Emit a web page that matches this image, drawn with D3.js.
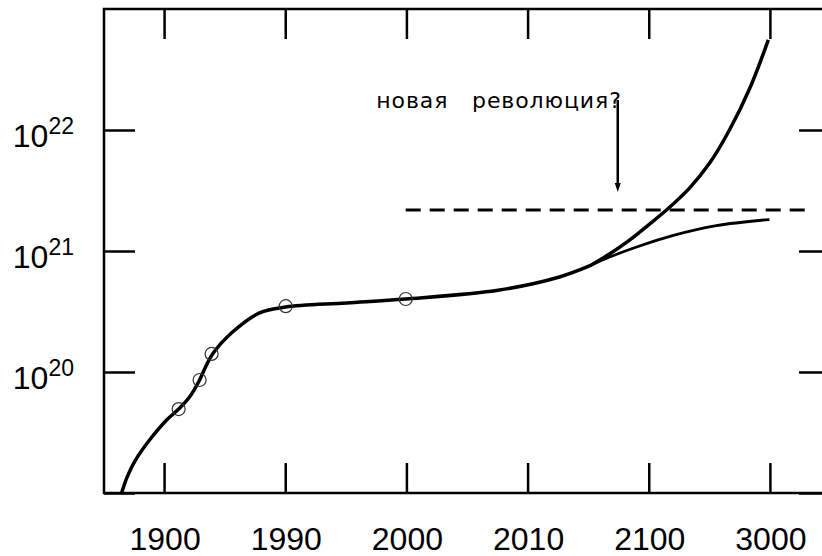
<!DOCTYPE html>
<html>
<head>
<meta charset="utf-8">
<script src="https://cdn.jsdelivr.net/npm/d3@7"></script>
<style>
  body { margin: 0; background: #fff; }
  svg { display: block; }
</style>
</head>
<body>
<div id="chart"></div>
<script>
// positions des graduations (axe non lineaire : une case par etiquette)
const tickLabels = ["1900", "1990", "2000", "2010", "2100", "3000"];
const yTicks = [1e19, 1e20, 1e21, 1e22];
const yLabelExp = {1e20: "20", 1e21: "21", 1e22: "22"};

// courbe principale (x = indice de case, y = valeur)
const mainX = [-0.355, -0.306, -0.240, -0.124, 0.017, 0.116, 0.206, 0.289, 0.338, 0.396, 0.561, 0.784, 0.998, 1.502, 1.988, 2.764, 3.259, 3.507];
const mainY = [1.0e19, 1.38e19, 1.87e19, 2.74e19, 4.01e19, 4.94e19, 6.21e19, 8.59e19, 1.10e20, 1.41e20, 2.14e20, 3.08e20, 3.44e20, 3.72e20, 4.01e20, 4.76e20, 6.10e20, 7.52e20];

// branche haute (revolution)
const upX = [3.507, 3.672, 3.837, 4.002, 4.142, 4.332, 4.497, 4.662, 4.827, 4.983];
const upY = [7.52e20, 9.44e20, 1.23e21, 1.67e21, 2.18e21, 3.31e21, 5.30e21, 1.0e22, 2.18e22, 5.55e22];

// branche basse (saturation)
const lowX = [3.507, 3.672, 3.920, 4.192, 4.555, 4.992];
const lowY = [7.52e20, 8.91e20, 1.10e21, 1.34e21, 1.62e21, 1.82e21];

// points mesures
const obsX = [0.116, 0.289, 0.388, 1.0, 1.99];
const obsY = [4.94e19, 8.59e19, 1.41e20, 3.5e20, 4.01e20];

// limite en tirets
const limitX = [1.99, 5.35];
const limitY = 2.18e21;

// fleche
const arrowX = 3.74;
const arrowY = [1.77e22, 3.08e21];
const annotation = "новая\u00a0\u00a0\u00a0революция?";

const margin = {top: 9, left: 104};
const width = 727;
const height = 484;

const svg = d3.select("#chart")
    .append("svg")
    .attr("width", 822)
    .attr("height", 556);

const g = svg.append("g")
    .attr("transform", "translate(" + margin.left + "," + margin.top + ")");

const x = d3.scaleLinear().domain([-0.5, 5.5]).range([0, width]);
const y = d3.scaleLog().domain([1e19, 1e23]).range([height, 0]);

// axes
const xb = g.append("g")
    .attr("transform", "translate(0," + height + ")")
    .call(d3.axisBottom(x)
        .tickValues(d3.range(tickLabels.length))
        .tickFormat(i => tickLabels[i])
        .tickSize(0)
        .tickPadding(34));
const yl = g.append("g")
    .call(d3.axisLeft(y)
        .tickValues(yTicks)
        .tickFormat(() => "")
        .tickSize(-31)
        .tickPadding(30));
const yr = g.append("g")
    .attr("transform", "translate(" + width + ",0)")
    .call(d3.axisRight(y)
        .tickValues(yTicks)
        .tickFormat(() => "")
        .tickSize(-32));

[xb, yl, yr].forEach(a => {
    a.select(".domain").remove();
    a.selectAll(".tick line").attr("stroke", "#000").attr("stroke-width", 2.5);
});

// graduations x en haut et en bas (rectangles fins)
const xTickG = g.append("g").attr("fill", "#000");
xTickG.selectAll("rect.top")
    .data(d3.range(tickLabels.length))
    .join("rect")
    .attr("class", "top")
    .attr("x", d => x(d) - 1.25)
    .attr("y", 0)
    .attr("width", 2.5)
    .attr("height", 30);
xTickG.selectAll("rect.bot")
    .data(d3.range(tickLabels.length))
    .join("rect")
    .attr("class", "bot")
    .attr("x", d => x(d) - 1.25)
    .attr("y", height - 30)
    .attr("width", 2.5)
    .attr("height", 30);

xb.selectAll(".tick text")
    .attr("font-family", "Liberation Sans, Arial, sans-serif")
    .attr("font-size", 32)
    .attr("fill", "#000");

// etiquettes 10^n
yl.selectAll(".tick")
    .filter(d => yLabelExp[d])
    .append("text")
    .attr("x", -30)
    .attr("dy", "0.5em")
    .attr("text-anchor", "end")
    .attr("font-family", "Liberation Sans, Arial, sans-serif")
    .attr("font-size", 32)
    .attr("fill", "#000")
    .each(function (d) {
        const t = d3.select(this);
        t.append("tspan").text("10");
        t.append("tspan").attr("font-size", 23).attr("dy", -13).text(yLabelExp[d]);
    });

// cadre
g.append("rect")
    .attr("width", width)
    .attr("height", height)
    .attr("fill", "none")
    .attr("stroke", "#000")
    .attr("stroke-width", 2.5);

const line = d3.line()
    .x(d => x(d[0]))
    .y(d => y(d[1]))
    .curve(d3.curveCatmullRom.alpha(0.5));

g.append("path")
    .datum(d3.zip(mainX, mainY))
    .attr("d", line)
    .attr("fill", "none")
    .attr("stroke", "#000")
    .attr("stroke-width", 3.5);

g.append("path")
    .datum(d3.zip(upX, upY))
    .attr("d", line)
    .attr("fill", "none")
    .attr("stroke", "#000")
    .attr("stroke-width", 3.5);

g.append("path")
    .datum(d3.zip(lowX, lowY))
    .attr("d", line)
    .attr("fill", "none")
    .attr("stroke", "#000")
    .attr("stroke-width", 2.8);

g.selectAll("circle.obs")
    .data(d3.zip(obsX, obsY))
    .join("circle")
    .attr("class", "obs")
    .attr("cx", d => x(d[0]))
    .attr("cy", d => y(d[1]))
    .attr("r", 6.5)
    .attr("fill", "none")
    .attr("stroke", "#333")
    .attr("stroke-width", 1.2);

g.append("line")
    .attr("x1", x(limitX[0]))
    .attr("x2", x(limitX[1]))
    .attr("y1", y(limitY))
    .attr("y2", y(limitY))
    .attr("stroke", "#000")
    .attr("stroke-width", 3)
    .attr("stroke-dasharray", "15,9");

// fleche + texte
const ax = x(arrowX);
g.append("line")
    .attr("x1", ax).attr("x2", ax)
    .attr("y1", y(arrowY[0]))
    .attr("y2", y(arrowY[1]) - 7)
    .attr("stroke", "#000")
    .attr("stroke-width", 2.5);
g.append("path")
    .attr("d", "M" + (ax - 3) + "," + (y(arrowY[1]) - 9) + "L" + (ax + 3) + "," + (y(arrowY[1]) - 9) + "L" + ax + "," + y(arrowY[1]) + "Z")
    .attr("fill", "#000");

g.append("text")
    .attr("x", ax + 4)
    .attr("y", y(arrowY[0]) + 8)
    .attr("text-anchor", "end")
    .attr("font-family", "DejaVu Sans, sans-serif")
    .attr("font-size", 22)
    .attr("letter-spacing", 0.9)
    .attr("fill", "#000")
    .text(annotation);
</script>
</body>
</html>
